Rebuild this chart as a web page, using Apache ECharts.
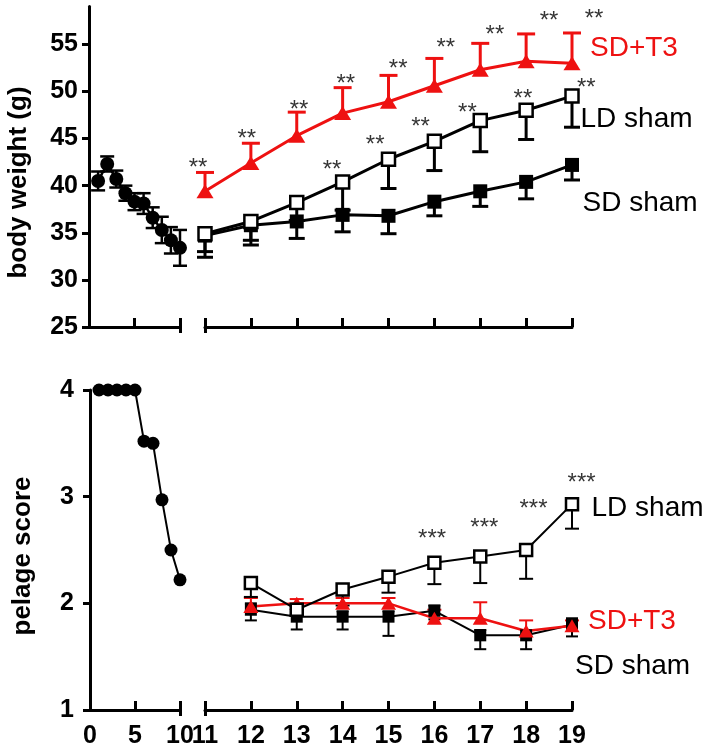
<!DOCTYPE html>
<html>
<head>
<meta charset="utf-8">
<script src="https://cdn.jsdelivr.net/npm/echarts@6/dist/echarts.min.js"></script>
<style>
html,body{margin:0;padding:0;background:#fff;}
#c{width:712px;height:752px;}
</style>
</head>
<body>
<div id="c"></div>
<script>
// ---------- DATA ----------
// Body weight, weeks 1-10 (before split)
const bwEarlyWeeks = [1, 2, 3, 4, 5, 6, 7, 8, 9, 10];
const bwEarly      = [40.5, 42.3, 40.7, 39.2, 38.3, 38.1, 36.6, 35.3, 34.2, 33.4];
const bwEarlyErr   = [1.0, 0.8, 0.9, 0.8, 0.9, 1.1, 1.1, 1.4, 1.4, 1.9];

// Body weight, weeks 11-19
const bwWeeks   = [11, 12, 13, 14, 15, 16, 17, 18, 19];
const bwT3      = [39.4, 42.4, 45.3, 47.7, 48.9, 50.6, 52.3, 53.2, 53.0];
const bwT3Up    = [2.0, 2.1, 2.5, 2.7, 2.8, 2.9, 2.8, 2.9, 3.2];
const bwLD      = [34.9, 36.2, 38.2, 40.4, 42.8, 44.7, 46.9, 48.0, 49.5];
const bwLDDown  = [1.9, 2.0, 1.9, 3.0, 3.1, 3.1, 3.3, 3.1, 3.3];
const bwSD      = [34.7, 35.8, 36.2, 36.9, 36.8, 38.3, 39.4, 40.4, 42.2];
const bwSDDown  = [2.3, 2.1, 1.8, 1.8, 1.9, 1.5, 1.6, 1.8, 1.6];

// Pelage score, weeks 1-10
const pelEarlyWeeks = [1, 2, 3, 4, 5, 6, 7, 8, 9, 10];
const pelEarly      = [4, 4, 4, 4, 4, 3.52, 3.50, 2.97, 2.50, 2.22];

// Pelage score, weeks 12-19
const pelWeeks   = [12, 13, 14, 15, 16, 17, 18, 19];
const pelLD      = [2.19, 1.94, 2.13, 2.25, 2.38, 2.44, 2.50, 2.93];
const pelLDDown  = [0.13, 0.05, 0.15, 0.15, 0.20, 0.25, 0.27, 0.23];
const pelT3      = [1.97, 2.00, 2.00, 2.00, 1.86, 1.86, 1.74, 1.79];
const pelT3Up    = [0.08, 0.04, 0.05, 0.05, 0.08, 0.15, 0.10, 0.05];
const pelSD      = [1.94, 1.875, 1.875, 1.875, 1.93, 1.70, 1.70, 1.80];
const pelSDUp    = [0.06, 0.05, 0.05, 0.05, 0.05, 0.05, 0.05, 0.06];
const pelSDDown  = [0.10, 0.12, 0.12, 0.18, 0.08, 0.13, 0.13, 0.11];

// Significance markers (annotation positions in data units)
const starsT3X  = [10.85, 11.91, 13.05, 14.07, 15.21, 16.25, 17.32, 18.5, 19.48];
const starsT3Y  = [42.4, 45.4, 48.5, 51.3, 52.9, 55.1, 56.5, 58.0, 58.2];
const starsLDX  = [13.77, 14.71, 15.70, 16.72, 17.93, 19.31];
const starsLDY  = [42.2, 44.8, 46.75, 48.2, 49.7, 50.9];
const starsPelX = [15.95, 17.09, 18.16, 19.21];
const starsPelY = [2.65, 2.75, 2.93, 3.17];

// Tick values
const bwYTicks  = [25, 30, 35, 40, 45, 50, 55];
const pelYTicks = [1, 2, 3, 4];

// ---------- STYLE ----------
const RED = '#ee1111';
const BLK = '#000000';
const FONT = 'Liberation Sans';

const chart = echarts.init(document.getElementById('c'), null, {renderer: 'canvas'});

function errSeries(xs, ys, up, down, color, xi, yi, cap, lw) {
  return {
    type: 'custom', xAxisIndex: xi, yAxisIndex: yi, z: 2, silent: true,
    encode: {x: 0, y: 1},
    data: xs.map((x, i) => [x, ys[i], up ? up[i] : 0, down ? down[i] : 0]),
    renderItem: function (params, api) {
      const x = api.value(0), y = api.value(1), u = api.value(2), d = api.value(3);
      const p0 = api.coord([x, y + u]);
      const p1 = api.coord([x, y - d]);
      const st = {stroke: color, lineWidth: lw};
      const ch = [{type: 'line', shape: {x1: p0[0], y1: p0[1], x2: p1[0], y2: p1[1]}, style: st}];
      if (u > 0) ch.push({type: 'line', shape: {x1: p0[0] - cap, y1: p0[1], x2: p0[0] + cap, y2: p0[1]}, style: st});
      if (d > 0) ch.push({type: 'line', shape: {x1: p1[0] - cap, y1: p1[1], x2: p1[0] + cap, y2: p1[1]}, style: st});
      return {type: 'group', children: ch};
    }
  };
}

function starSeries(xs, ys, text, xi, yi) {
  return {
    type: 'scatter', xAxisIndex: xi, yAxisIndex: yi, clip: false, silent: true, z: 6,
    symbolSize: 1, itemStyle: {color: 'rgba(0,0,0,0)'},
    data: xs.map((x, i) => [x, ys[i]]),
    label: {show: true, position: 'inside', formatter: text, color: BLK,
            fontSize: 24, fontFamily: FONT, offset: [0, 5]}
  };
}

function lineSeries(xs, ys, xi, yi, opts) {
  return Object.assign({
    type: 'line', xAxisIndex: xi, yAxisIndex: yi, z: 4, silent: true,
    data: xs.map((x, i) => [x, ys[i]]),
    animation: false
  }, opts);
}

const axLine = {show: true, onZero: false, lineStyle: {color: BLK, width: 3}};
const lblStyle = {color: BLK, fontSize: 25, fontWeight: 'bold', fontFamily: FONT};

function mainX(gi, min, max, interval, showLabels) {
  return {
    type: 'value', gridIndex: gi, position: 'bottom', min: min, max: max, interval: interval,
    axisLine: axLine, splitLine: {show: false},
    axisTick: {show: true, inside: true, length: 9, lineStyle: {color: BLK, width: 3}},
    axisLabel: showLabels ? Object.assign({show: true, margin: 14}, lblStyle) : {show: false}
  };
}
function crossX(gi, min, max, at) {
  return {
    type: 'value', gridIndex: gi, position: 'bottom', min: min, max: max,
    axisLine: {show: false, onZero: false}, splitLine: {show: false},
    axisTick: {show: true, inside: false, length: 6, customValues: [at], lineStyle: {color: BLK, width: 3}},
    axisLabel: {show: false}
  };
}

const option = {
  backgroundColor: '#ffffff',
  animation: false,
  grid: [
    {left: 89, top: 6.6, width: 91, height: 320.4},
    {left: 205, top: 6.6, width: 367, height: 320.4},
    {left: 90, top: 390, width: 90, height: 320},
    {left: 205, top: 390, width: 367, height: 320}
  ],
  xAxis: [
    mainX(0, 0, 10, 5, false),
    crossX(0, 0, 10, 10),
    mainX(1, 11, 19, 1, false),
    crossX(1, 11, 19, 11),
    mainX(2, 0, 10, 5, true),
    crossX(2, 0, 10, 10),
    mainX(3, 11, 19, 1, true),
    crossX(3, 11, 19, 11)
  ],
  yAxis: [
    {type: 'value', gridIndex: 0, min: 25, max: 59, interval: 5,
     axisLine: axLine, splitLine: {show: false},
     axisTick: {show: true, length: 7, customValues: bwYTicks, lineStyle: {color: BLK, width: 3}},
     axisLabel: Object.assign({show: true, margin: 11, customValues: bwYTicks}, lblStyle)},
    {type: 'value', gridIndex: 1, min: 25, max: 59, show: false},
    {type: 'value', gridIndex: 2, min: 1, max: 4, interval: 1,
     axisLine: axLine, splitLine: {show: false},
     axisTick: {show: true, length: 7, lineStyle: {color: BLK, width: 3}},
     axisLabel: Object.assign({show: true, margin: 16, customValues: pelYTicks}, lblStyle)},
    {type: 'value', gridIndex: 3, min: 1, max: 4, show: false}
  ],
  graphic: [
    {type: 'text', x: 18.5, y: 182.5, rotation: Math.PI / 2,
     style: {text: 'body weight (g)', fill: BLK, font: 'bold 26px "Liberation Sans"', textAlign: 'center', textVerticalAlign: 'middle'}},
    {type: 'text', x: 22.5, y: 556, rotation: Math.PI / 2,
     style: {text: 'pelage score', fill: BLK, font: 'bold 26px "Liberation Sans"', textAlign: 'center', textVerticalAlign: 'middle'}},
    {type: 'text', x: 590, y: 48.5,
     style: {text: 'SD+T3', fill: RED, font: '28px "Liberation Sans"', textAlign: 'left', textVerticalAlign: 'middle'}},
    {type: 'text', x: 580.5, y: 119,
     style: {text: 'LD sham', fill: BLK, font: '28px "Liberation Sans"', textAlign: 'left', textVerticalAlign: 'middle'}},
    {type: 'text', x: 582.5, y: 203.5,
     style: {text: 'SD sham', fill: BLK, font: '28px "Liberation Sans"', textAlign: 'left', textVerticalAlign: 'middle'}},
    {type: 'text', x: 591.5, y: 508.5,
     style: {text: 'LD sham', fill: BLK, font: '28px "Liberation Sans"', textAlign: 'left', textVerticalAlign: 'middle'}},
    {type: 'text', x: 588, y: 621.5,
     style: {text: 'SD+T3', fill: RED, font: '28px "Liberation Sans"', textAlign: 'left', textVerticalAlign: 'middle'}},
    {type: 'text', x: 575, y: 666,
     style: {text: 'SD sham', fill: BLK, font: '28px "Liberation Sans"', textAlign: 'left', textVerticalAlign: 'middle'}}
  ],
  series: [
    // ---- top, weeks 1-10 ----
    errSeries(bwEarlyWeeks, bwEarly, bwEarlyErr, bwEarlyErr, BLK, 0, 0, 7, 2.5),
    lineSeries(bwEarlyWeeks, bwEarly, 0, 0, {
      symbol: 'circle', symbolSize: 14, itemStyle: {color: BLK},
      lineStyle: {color: BLK, width: 2.5}}),
    // ---- top, weeks 11-19 ----
    errSeries(bwWeeks, bwSD, null, bwSDDown, BLK, 2, 1, 8, 3),
    errSeries(bwWeeks, bwLD, null, bwLDDown, BLK, 2, 1, 8, 3),
    errSeries(bwWeeks, bwT3, bwT3Up, null, RED, 2, 1, 9, 3),
    lineSeries(bwWeeks, bwSD, 2, 1, {
      symbol: 'rect', symbolSize: 14, itemStyle: {color: BLK},
      lineStyle: {color: BLK, width: 3}}),
    lineSeries(bwWeeks, bwLD, 2, 1, {
      symbol: 'rect', symbolSize: 13, itemStyle: {color: '#ffffff', borderColor: BLK, borderWidth: 2.5},
      lineStyle: {color: BLK, width: 3}}),
    lineSeries(bwWeeks, bwT3, 2, 1, {
      symbol: 'triangle', symbolSize: [17, 14], itemStyle: {color: RED},
      lineStyle: {color: RED, width: 3}}),
    starSeries(starsT3X, starsT3Y, '**', 2, 1),
    starSeries(starsLDX, starsLDY, '**', 2, 1),
    // ---- bottom, weeks 1-10 ----
    lineSeries(pelEarlyWeeks, pelEarly, 4, 2, {
      symbol: 'circle', symbolSize: 13, itemStyle: {color: BLK},
      lineStyle: {color: BLK, width: 2}}),
    // ---- bottom, weeks 12-19 ----
    errSeries(pelWeeks, pelSD, pelSDUp, pelSDDown, BLK, 6, 3, 6, 2),
    errSeries(pelWeeks, pelT3, pelT3Up, null, RED, 6, 3, 7, 2),
    errSeries(pelWeeks, pelLD, null, pelLDDown, BLK, 6, 3, 7, 2),
    lineSeries(pelWeeks, pelSD, 6, 3, {
      symbol: 'rect', symbolSize: 12, itemStyle: {color: BLK},
      lineStyle: {color: BLK, width: 2}}),
    lineSeries(pelWeeks, pelT3, 6, 3, {
      symbol: 'triangle', symbolSize: [15, 13], itemStyle: {color: RED},
      lineStyle: {color: RED, width: 2.5}}),
    lineSeries(pelWeeks, pelLD, 6, 3, {
      symbol: 'rect', symbolSize: 12, itemStyle: {color: '#ffffff', borderColor: BLK, borderWidth: 2.5},
      lineStyle: {color: BLK, width: 2}}),
    starSeries(starsPelX, starsPelY, '***', 6, 3)
  ]
};
chart.setOption(option);
</script>
</body>
</html>
